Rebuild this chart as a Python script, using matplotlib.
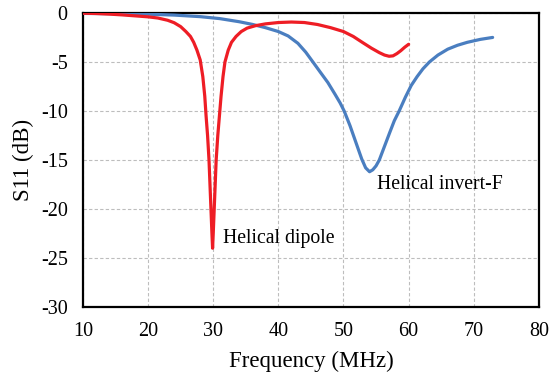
import matplotlib
matplotlib.use("Agg")
import matplotlib.pyplot as plt

plt.rcParams['font.family'] = ['Liberation Serif', 'DejaVu Serif']

# Helical dipole S11 (red)
dipole_freq = [10, 12, 14, 16, 18, 20, 21.5, 23, 24, 25, 25.8, 26.5, 27, 27.5, 28,
               28.4, 28.7, 28.9, 29.13, 29.35, 29.5, 29.65, 29.8, 29.9,
               30.0, 30.15, 30.3, 30.45, 30.7, 30.95, 31.2, 31.5, 31.8, 32.3, 32.8,
               33.5, 34.3, 35.2, 36.5, 38, 40, 42, 44, 46, 48, 50, 51.5, 53, 54.3,
               55.5, 56.3, 57, 57.6, 58.2, 58.8, 59.4, 60]
dipole_s11 = [-0.03, -0.06, -0.12, -0.2, -0.3, -0.4, -0.52, -0.75, -1.0, -1.4, -1.9,
              -2.4, -3.0, -3.8, -4.8, -6.5, -8.5, -10.5, -12.5, -15.0, -17.5, -20.0,
              -22.5, -24.0,
              -22.5, -20.0, -17.5, -15.0, -12.5, -10.5, -8.5, -6.5, -5.0, -3.8, -3.0,
              -2.4, -1.9, -1.55, -1.3, -1.12, -0.98, -0.93, -0.98, -1.18, -1.5, -1.9,
              -2.4, -3.05, -3.6, -4.05, -4.3, -4.42, -4.38, -4.15, -3.85, -3.5, -3.2]

# Helical invert-F S11 (blue)
invf_freq = [10, 15, 20, 24, 28, 31, 34, 36, 38, 40, 41.5, 43, 44.2, 45.3, 46.5,
             47.6, 48.7, 49.5, 50.1, 51.0, 51.9, 52.8, 53.4, 54.0, 54.5, 55.0, 55.5,
             56.3, 57.1, 57.8, 58.55, 59.5, 60.4, 61.3, 62.2, 63.2, 64.5, 66, 67.5,
             69, 71, 72.9]
invf_s11 = [-0.05, -0.08, -0.13, -0.22, -0.38, -0.58, -0.9, -1.17, -1.5, -1.9, -2.35,
            -3.1, -4.0, -5.0, -6.1, -7.1, -8.3, -9.2, -10.0, -11.5, -13.2, -14.9,
            -15.8, -16.2, -16.0, -15.6, -15.0, -13.6, -12.2, -11.0, -10.0, -8.6,
            -7.4, -6.5, -5.7, -5.0, -4.3, -3.7, -3.3, -3.0, -2.7, -2.5]

x_ticks = [10, 20, 30, 40, 50, 60, 70, 80]
y_ticks = [0, -5, -10, -15, -20, -25, -30]

fig = plt.figure(figsize=(5.51, 3.80), dpi=100)
ax = fig.add_axes([0.1506, 0.192, 0.8274, 0.774])

ax.plot(invf_freq, invf_s11, color='#4A7EC0', lw=2.3, solid_joinstyle='round',
        solid_capstyle='round', zorder=3)
ax.plot(dipole_freq, dipole_s11, color='#EE1D25', lw=2.3, solid_joinstyle='round',
        solid_capstyle='round', zorder=4)

ax.set_xlim(10, 80)
ax.set_ylim(-30, 0)
ax.set_xticks(x_ticks)
ax.set_yticks(y_ticks)
ax.set_xticklabels([str(v) for v in x_ticks])
ax.set_yticklabels([str(v) for v in y_ticks])
ax.tick_params(axis='y', length=0, labelsize=14.5, pad=11)
ax.tick_params(axis='x', length=0, labelsize=14.5, pad=11)
ax.grid(True, color='#BDBDBD', linestyle=(0, (3, 2)), linewidth=0.8)
ax.set_axisbelow(True)
for side in ['top', 'bottom', 'left', 'right']:
    ax.spines[side].set_color('black')
    ax.spines[side].set_linewidth(1.6)

ax.set_xlabel('Frequency (MHz)', fontsize=16.5, labelpad=7)
ax.set_ylabel('S11 (dB)', fontsize=16.5, labelpad=5)

ax.text(55.1, -17.5, 'Helical invert-F', fontsize=14.2, ha='left', va='center')
ax.text(31.5, -23.0, 'Helical dipole', fontsize=14.2, ha='left', va='center')

fig.savefig('out.png', dpi=100)
